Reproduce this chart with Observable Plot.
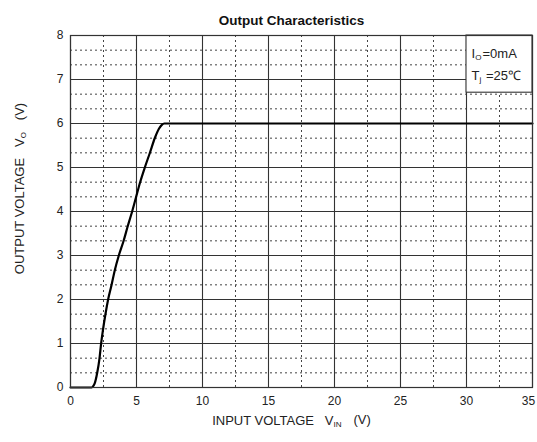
<!DOCTYPE html>
<html>
<head>
<meta charset="utf-8">
<script src="https://cdn.jsdelivr.net/npm/d3@7"></script>
<script src="https://cdn.jsdelivr.net/npm/@observablehq/plot@0.6"></script>
<style>
  html, body { margin: 0; padding: 0; background: #fff; }
  svg text { font-family: "Liberation Sans", Arial, sans-serif; }
</style>
</head>
<body>
<div id="chart"></div>
<script>
// ---- data ----
const vin  = [0, 1.6, 1.72, 1.84, 2.02, 2.2,  2.32, 2.47, 2.65, 2.85, 3.11, 3.36, 3.66, 4.02, 4.34, 4.67, 4.97, 5.28, 5.63, 6.01, 6.39, 6.7,  6.92, 7.1, 35];
const vout = [0, 0,   0.03, 0.1,  0.33, 0.67, 1,    1.33, 1.67, 2,    2.33, 2.67, 3,    3.33, 3.67, 4,    4.33, 4.67, 5,    5.33, 5.67, 5.88, 5.97, 6,   6];

const xTicks = [0, 5, 10, 15, 20, 25, 30, 35];
const xMinor = [2.5, 7.5, 12.5, 17.5, 22.5, 27.5, 32.5];
const yTicks = [0, 1, 2, 3, 4, 5, 6, 7, 8];
const yMinor = yTicks.slice(0, -1).flatMap(v => [v + 1/3, v + 2/3]);

const title = "Output Characteristics";
const xLabel = "INPUT VOLTAGE   V_{IN}   (V)";
const yLabel = "OUTPUT VOLTAGE   V_{O}   (V)";
const legendLines = ["I_{O}=0mA", "T_{j} =25\u2103"];

const curve = vin.map((x, i) => ({x, y: vout[i]}));
const lastTick = xTicks[xTicks.length - 1];

const chart = Plot.plot({
  width: 537,
  height: 442,
  marginLeft: 70,
  marginRight: 5,
  marginTop: 35,
  marginBottom: 55,
  style: {fontFamily: "Liberation Sans, Arial, sans-serif", fontSize: "12px", background: "#fff", color: "#222"},
  x: {domain: [0, 35]},
  y: {domain: [0, 8]},
  marks: [
    Plot.ruleY(yMinor, {stroke: "#444", strokeWidth: 1, strokeDasharray: "2,3"}),
    Plot.ruleX(xMinor, {stroke: "#444", strokeWidth: 1, strokeDasharray: "2,3"}),
    Plot.ruleY(yTicks, {stroke: "#333", strokeWidth: 1.1}),
    Plot.ruleX(xTicks, {stroke: "#333", strokeWidth: 1.1}),
    Plot.rect([{x1: 30, x2: 35, y1: 6.7, y2: 8}], {x1: "x1", x2: "x2", y1: "y1", y2: "y2", fill: "#fff", stroke: "#333", strokeWidth: 1.1}),
    Plot.line(curve, {x: "x", y: "y", stroke: "#000", strokeWidth: 2.2, curve: "monotone-x"}),
    Plot.frame({stroke: "#333", strokeWidth: 1.2}),
    Plot.axisX({ticks: xTicks.slice(0, -1), tickSize: 0, tickPadding: 9, label: null, fontSize: 12, fill: "#222"}),
    Plot.axisX({ticks: [lastTick], tickSize: 0, tickPadding: 9, label: null, fontSize: 12, fill: "#222", dx: -4}),
    Plot.axisY({ticks: yTicks, tickSize: 0, tickPadding: 7, label: null, fontSize: 12, fill: "#222"}),
    Plot.text([title], {frameAnchor: "top", dy: -20, dx: -10, fontWeight: "bold", fontSize: 13.5, fill: "#111"}),
    Plot.text([xLabel], {frameAnchor: "bottom", dy: 37, dx: -10, fontSize: 13, fill: "#222"}),
    Plot.text([yLabel], {frameAnchor: "left", dx: -51, dy: -23, rotate: -90, textAnchor: "middle", fontSize: 13, fill: "#222"}),
    Plot.text([legendLines[0]], {x: 30, y: 8, dx: 5, dy: 18, textAnchor: "start", fontSize: 13, fill: "#222"}),
    Plot.text([legendLines[1]], {x: 30, y: 8, dx: 5, dy: 40, textAnchor: "start", fontSize: 13, fill: "#222"})
  ]
});

// turn "_{...}" markers into subscript tspans (text stays real text)
d3.select(chart).selectAll("text").each(function () {
  const t = this.textContent;
  if (!t.includes("_{")) return;
  const parts = t.split(/(_\{[^}]*\})/);
  const sel = d3.select(this);
  sel.text(null);
  parts.forEach(p => {
    if (!p) return;
    if (p.startsWith("_{")) {
      sel.append("tspan").attr("font-size", "0.62em").attr("dy", "0.35em").text(p.slice(2, -1));
      sel.append("tspan").attr("dy", "-0.22em").text("\u200a");
    } else {
      sel.append("tspan").text(p);
    }
  });
});

document.getElementById("chart").appendChild(chart);
</script>
</body>
</html>
